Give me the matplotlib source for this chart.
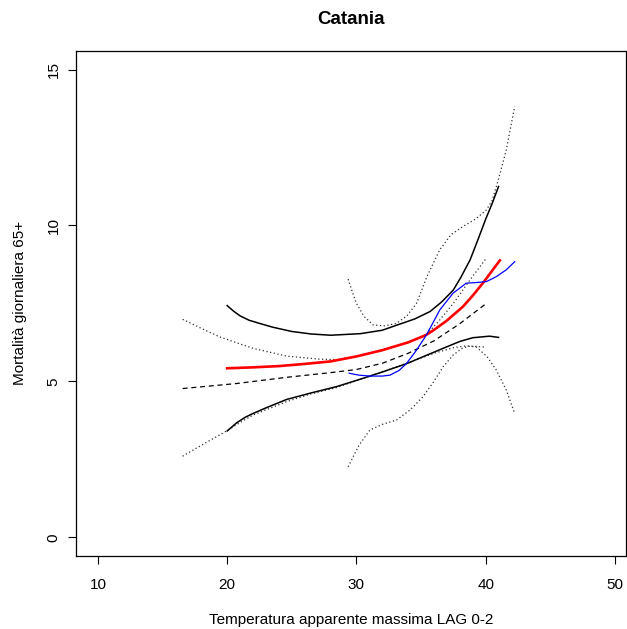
import numpy as np
import matplotlib
matplotlib.use("Agg")
import matplotlib.pyplot as plt

plt.rcParams['font.family'] = ['Liberation Sans', 'DejaVu Sans']

# modello 1: curva rossa con IC neri
rosso_x = [20, 22, 24, 26, 28, 30, 32, 34, 35.4, 36, 37, 38.25, 39, 39.8, 41.1]
rosso_y = [5.42, 5.45, 5.49, 5.56, 5.64, 5.8, 6.0, 6.25, 6.49, 6.65, 6.95, 7.4, 7.75, 8.16, 8.88]
sup_x = [20, 20.5, 21, 21.7, 22.5, 23.5, 25, 26.5, 28, 30.3, 32, 33.1, 34.5, 35.7, 36.6, 37.5, 38.1, 38.8, 39.4, 40, 40.5, 41]
sup_y = [7.43, 7.25, 7.1, 6.96, 6.86, 6.74, 6.6, 6.52, 6.48, 6.53, 6.64, 6.8, 7.0, 7.24, 7.55, 7.93, 8.35, 8.9, 9.54, 10.2, 10.7, 11.25]
inf_x = [20, 20.73, 21.4, 22, 23, 24.6, 26.5, 28.45, 30.3, 32, 33.9, 35.5, 37, 38, 39, 40.3, 41]
inf_y = [3.41, 3.67, 3.85, 3.97, 4.15, 4.42, 4.63, 4.83, 5.07, 5.3, 5.57, 5.85, 6.11, 6.28, 6.4, 6.45, 6.41]

# modello 2: curva tratteggiata con IC punteggiati
tratt_x = [16.55, 20.7, 24.6, 28, 30, 32, 34, 36, 38, 40.05]
tratt_y = [4.77, 4.93, 5.13, 5.28, 5.38, 5.58, 5.9, 6.3, 6.85, 7.5]
punt_sup_x = [16.55, 18, 19.4, 21, 22, 24.6, 27.2, 28.5, 30, 32, 34, 35.4, 36.45, 37.5, 38.8, 40.05]
punt_sup_y = [6.99, 6.7, 6.43, 6.2, 6.06, 5.81, 5.71, 5.7, 5.8, 6.0, 6.25, 6.49, 6.97, 7.5, 8.26, 8.95]
punt_inf_x = [16.55, 18, 19.95, 21, 22, 24.6, 26.5, 28.45, 30, 33, 36, 37.5, 38.5, 40]
punt_inf_y = [2.6, 2.95, 3.41, 3.68, 3.92, 4.35, 4.6, 4.8, 5.02, 5.45, 5.9, 6.08, 6.14, 6.1]

# modello 3: curva blu con IC punteggiati
blu_x = [29.44, 30.2, 31.04, 32.0, 32.6, 33.3, 33.87, 34.65, 35.42, 36.45, 37.48, 38.5, 39.28, 40.06, 40.83, 41.6, 42.25]
blu_y = [5.26, 5.2, 5.17, 5.17, 5.2, 5.35, 5.57, 6.0, 6.49, 7.29, 7.83, 8.15, 8.17, 8.2, 8.36, 8.58, 8.84]
blu_sup_x = [29.36, 29.7, 30.0, 30.6, 31.29, 32.2, 33.1, 33.9, 34.65, 35.5, 36.45, 37.3, 38.25, 39.2, 40.06, 40.5, 40.83, 41.2, 41.6, 42.25]
blu_sup_y = [8.28, 7.85, 7.5, 7.08, 6.81, 6.78, 6.86, 7.1, 7.5, 8.4, 9.22, 9.7, 9.97, 10.2, 10.5, 10.8, 11.25, 11.8, 12.43, 13.82]
blu_inf_x = [29.36, 30.2, 31.04, 32.0, 33.1, 34.2, 35.16, 36.0, 36.71, 37.5, 38.25, 38.8, 39.28, 40.1, 40.83, 41.6, 42.25]
blu_inf_y = [2.26, 2.95, 3.44, 3.62, 3.76, 4.1, 4.51, 5.0, 5.47, 5.85, 6.08, 6.13, 6.1, 5.8, 5.36, 4.72, 3.97]

fig = plt.figure(figsize=(6.27, 6.29), dpi=100)
ax = fig.add_axes([0.1212, 0.1161, 0.878, 0.803])

ax.plot(tratt_x, tratt_y, color='black', lw=0.9, ls=(0, (4, 3)))
ax.plot(punt_sup_x, punt_sup_y, color='#303030', lw=0.9, ls=(0, (1, 2)))
ax.plot(punt_inf_x, punt_inf_y, color='#303030', lw=0.9, ls=(0, (1, 2)))
ax.plot(blu_sup_x, blu_sup_y, color='#303030', lw=0.9, ls=(0, (1, 2)))
ax.plot(blu_inf_x, blu_inf_y, color='#303030', lw=0.9, ls=(0, (1, 2)))
ax.plot(sup_x, sup_y, color='black', lw=1.1)
ax.plot(inf_x, inf_y, color='black', lw=1.1)
ax.plot(rosso_x, rosso_y, color='red', lw=1.9)
ax.plot(blu_x, blu_y, color='blue', lw=0.9)

ax.set_xlim(8.3, 50.9)
ax.set_ylim(-0.6, 15.6)
ax.set_xticks([10, 20, 30, 40, 50])
ax.set_yticks([0, 5, 10, 15])
ax.tick_params(direction='out', length=6, width=0.8, labelsize=11)
ax.tick_params(axis='x', pad=10)
ax.tick_params(axis='y', pad=5)
for lab in ax.get_yticklabels():
    lab.set_rotation(90)
    lab.set_va('center')
for s in ax.spines.values():
    s.set_linewidth(0.9)

ax.set_title('Catania', fontsize=13.5, fontweight='bold', pad=19)
ax.set_xlabel('Temperatura apparente massima LAG 0-2', fontsize=11, labelpad=15)
ax.set_ylabel('Mortalità giornaliera 65+', fontsize=11, labelpad=14)

fig.savefig('out.png', dpi=100)
